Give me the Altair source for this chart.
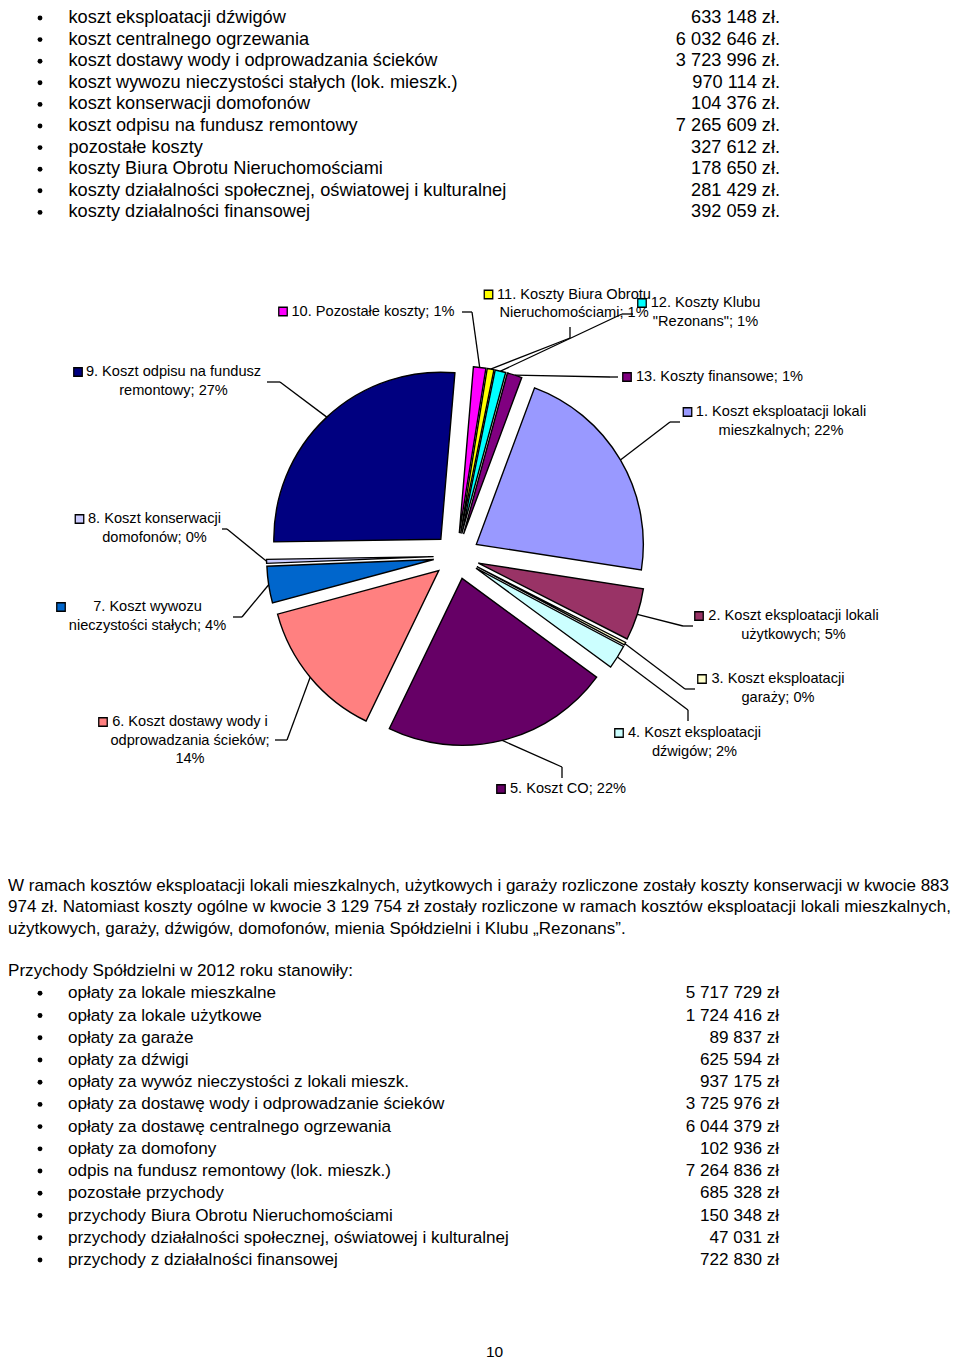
import math
import textwrap
import altair as alt
import pandas as pd

# ---------------- data ----------------
cost_items = [
    "koszt eksploatacji dźwigów",
    "koszt centralnego ogrzewania",
    "koszt dostawy wody i odprowadzania ścieków",
    "koszt wywozu nieczystości stałych (lok. mieszk.)",
    "koszt konserwacji domofonów",
    "koszt odpisu na fundusz remontowy",
    "pozostałe koszty",
    "koszty Biura Obrotu Nieruchomościami",
    "koszty działalności społecznej, oświatowej i kulturalnej",
    "koszty działalności finansowej",
]
cost_values = [633148, 6032646, 3723996, 970114, 104376, 7265609, 327612, 178650, 281429, 392059]

slice_names = [
    "Koszt eksploatacji lokali mieszkalnych",
    "Koszt eksploatacji lokali użytkowych",
    "Koszt eksploatacji garaży",
    "Koszt eksploatacji dźwigów",
    "Koszt CO",
    "Koszt dostawy wody i odprowadzania ścieków",
    "Koszt wywozu nieczystości stałych",
    "Koszt konserwacji domofonów",
    "Koszt odpisu na fundusz remontowy",
    "Pozostałe koszty",
    "Koszty Biura Obrotu Nieruchomościami",
    'Koszty Klubu "Rezonans"',
    "Koszty finansowe",
]
# slices 1-3 are not in the visible list
slice_values = [5950000, 1380000, 70000] + cost_values
slice_colors = ["#9999FF", "#993366", "#FFFFCC", "#CCFFFF", "#660066", "#FF8080",
                "#0066CC", "#CCCCFF", "#000080", "#FF00FF", "#FFFF00", "#00FFFF", "#800080"]

paragraph_lines = [
    "W ramach kosztów eksploatacji lokali mieszkalnych, użytkowych i garaży rozliczone zostały koszty konserwacji w kwocie 883",
    "974 zł. Natomiast koszty ogólne w kwocie 3 129 754 zł zostały rozliczone w ramach kosztów eksploatacji lokali mieszkalnych,",
    "użytkowych, garaży, dźwigów, domofonów, mienia Spółdzielni i Klubu „Rezonans”.",
]
income_title = "Przychody Spółdzielni w 2012 roku stanowiły:"
income_items = [
    "opłaty za lokale mieszkalne",
    "opłaty za lokale użytkowe",
    "opłaty za garaże",
    "opłaty za dźwigi",
    "opłaty za wywóz nieczystości z lokali mieszk.",
    "opłaty za dostawę wody i odprowadzanie ścieków",
    "opłaty za dostawę centralnego ogrzewania",
    "opłaty za domofony",
    "odpis na fundusz remontowy (lok. mieszk.)",
    "pozostałe przychody",
    "przychody Biura Obrotu Nieruchomościami",
    "przychody działalności społecznej, oświatowej i kulturalnej",
    "przychody z działalności finansowej",
]
income_values = [5717729, 1724416, 89837, 625594, 937175, 3725976, 6044379, 102936,
                 7264836, 685328, 150348, 47031, 722830]
page_number = "10"

# ---------------- layout / style ----------------
FONT = "Liberation Sans"
W, H = 944, 1354
M = 8  # page margin


def P(v):
    return v - M


XS = alt.Scale(domain=[M, W + M], range=[0, W], zero=False, nice=False)
YS = alt.Scale(domain=[M, H + M], range=[0, H], zero=False, nice=False)


def X(f):
    return alt.X(f, type="quantitative", scale=XS, axis=None)


def Y(f):
    return alt.Y(f, type="quantitative", scale=YS, axis=None)


def pln(v, suffix):
    return f"{v:,}".replace(",", " ") + " " + suffix


# pie geometry
CX, CY = 456.5, 556.0
EXPLODE = 23.0
RADIUS = 167.0
A0 = math.radians(20.4)
TOTAL = sum(slice_values)

# label layout (page coordinates)
label_wrap = [28, 28, 21, 21, 40, 23, 24, 20, 26, 40, 23, 16, 40]
label_x = [781, 793.5, 778, 694.5, 568, 190, 147.5, 154.5, 173.5, 373, 574, 705.5, 719.5]
label_y = [412, 616, 679, 733, 789, 722, 607, 519, 372, 311.5, 294.5, 303, 377]
key_x = [687.5, 699, 702, 619, 501, 103, 61, 79.5, 78, 283, 488.5, 642, 627]
elbow_x = [670, 683, 685, 688, 562, 287, 242, 227, 280, 472, 570, 622, 610]
elbow_y = [422, 626, 689, 710, 767, 740, 617, 529, 382, 312, 338, 314, 377]
end_x = [680, 693, 695, 688, 562, 275, 233, 222, 267, 462, 570, 633, 618]
end_y = [422, 626, 689, 721, 778, 740, 617, 529, 382, 312, 327, 314, 377]
LABEL_LH = 18.7
LABEL_FS = 14.6

# ---------------- tables ----------------
pie_df = pd.DataFrame({
    "idx": list(range(1, 14)),
    "name": slice_names,
    "value": slice_values,
    "ex": elbow_x, "ey": elbow_y, "tx": end_x, "ty": end_y,
})

lab_rows = []
for k, (nm, v) in enumerate(zip(slice_names, slice_values)):
    pct = round(100 * v / TOTAL)
    txt = f"{k + 1}. {nm}; {pct}%"
    for j, line in enumerate(textwrap.wrap(txt, label_wrap[k])):
        lab_rows.append({"name": nm, "j": j, "line": line, "lx": label_x[k],
                         "ly": label_y[k] + j * LABEL_LH, "kx": key_x[k], "ky": label_y[k]})
lab_df = pd.DataFrame(lab_rows)
key_df = lab_df[lab_df["j"] == 0]

fill = alt.Fill("name:N", scale=alt.Scale(domain=slice_names, range=slice_colors), legend=None)

# ---------------- pie ----------------
pie_base = (
    alt.Chart(pie_df)
    .transform_joinaggregate(total="sum(value)")
    .transform_window(cum="sum(value)", sort=[alt.SortField("idx")], frame=[None, 0])
    .transform_calculate(
        c0="datum.cum - datum.value",
        mid=f"{A0} + 2*PI*(datum.cum - datum.value/2)/datum.total",
    )
    .transform_calculate(
        px=f"{CX} + {EXPLODE}*sin(datum.mid)",
        py=f"{CY} - {EXPLODE}*cos(datum.mid)",
        ax=f"{CX} + {EXPLODE + RADIUS}*sin(datum.mid)",
        ay=f"{CY} - {EXPLODE + RADIUS}*cos(datum.mid)",
    )
)

pie = pie_base.mark_arc(outerRadius=RADIUS, stroke="black", strokeWidth=1.4).encode(
    x=X("px"),
    y=Y("py"),
    theta=alt.Theta("c0:Q", stack=None,
                    scale=alt.Scale(domain=[0, TOTAL], range=[A0, A0 + 2 * math.pi])),
    theta2=alt.Theta2("cum:Q"),
    fill=fill,
)

lead1 = pie_base.mark_rule(color="black", strokeWidth=1.3).encode(
    x=X("ax"), y=Y("ay"), x2=alt.X2("ex:Q"), y2=alt.Y2("ey:Q"))
lead2 = pie_base.mark_rule(color="black", strokeWidth=1.3).encode(
    x=X("ex"), y=Y("ey"), x2=alt.X2("tx:Q"), y2=alt.Y2("ty:Q"))

labels = alt.Chart(lab_df).mark_text(
    font=FONT, fontSize=LABEL_FS, align="center", baseline="middle", color="black"
).encode(x=X("lx"), y=Y("ly"), text="line:N")

keys = alt.Chart(key_df).mark_square(size=72, stroke="black", strokeWidth=1.3, opacity=1).encode(
    x=X("kx"), y=Y("ky"), fill=fill)

# ---------------- text of the page ----------------
TOP_FS = 18.2
TOP_Y0, TOP_STEP = 23.0, 21.6
top_df = pd.DataFrame({"i": list(range(len(cost_items))), "item": cost_items,
                       "amount": [pln(v, "zł.") for v in cost_values]})
top_base = alt.Chart(top_df).transform_calculate(
    yb=f"{TOP_Y0} + datum.i*{TOP_STEP}", yc=f"{TOP_Y0 - 5} + datum.i*{TOP_STEP}")
top_items = top_base.mark_text(font=FONT, fontSize=TOP_FS, align="left", baseline="alphabetic",
                               color="black").encode(x=alt.value(P(68.5)), y=Y("yb"), text="item:N")
top_amts = top_base.mark_text(font=FONT, fontSize=TOP_FS, align="right", baseline="alphabetic",
                              color="black").encode(x=alt.value(P(780)), y=Y("yb"), text="amount:N")
top_bul = top_base.mark_circle(size=24, color="black", opacity=1).encode(x=alt.value(P(40)), y=Y("yc"))

BODY_FS = 17.1
PAR_Y0, PAR_STEP = 890.7, 21.4
par_df = pd.DataFrame({"i": list(range(len(paragraph_lines))), "line": paragraph_lines})
par = alt.Chart(par_df).transform_calculate(yb=f"{PAR_Y0} + datum.i*{PAR_STEP}").mark_text(
    font=FONT, fontSize=17, align="left", baseline="alphabetic", color="black"
).encode(x=alt.value(P(8)), y=Y("yb"), text="line:N")

INC_Y0, INC_STEP = 998.3, 22.22
inc_df = pd.DataFrame({"i": list(range(len(income_items))), "item": income_items,
                       "amount": [pln(v, "zł") for v in income_values]})
inc_base = alt.Chart(inc_df).transform_calculate(
    yb=f"{INC_Y0} + datum.i*{INC_STEP}", yc=f"{INC_Y0 - 5} + datum.i*{INC_STEP}")
inc_items = inc_base.mark_text(font=FONT, fontSize=BODY_FS, align="left", baseline="alphabetic",
                               color="black").encode(x=alt.value(P(68)), y=Y("yb"), text="item:N")
inc_amts = inc_base.mark_text(font=FONT, fontSize=BODY_FS, align="right", baseline="alphabetic",
                              color="black").encode(x=alt.value(P(779)), y=Y("yb"), text="amount:N")
inc_bul = inc_base.mark_circle(size=24, color="black", opacity=1).encode(x=alt.value(P(40)), y=Y("yc"))

title_df = pd.DataFrame({"t": [income_title], "x": [8], "y": [976]})
inc_title = alt.Chart(title_df).mark_text(font=FONT, fontSize=BODY_FS, align="left", baseline="alphabetic",
                                          color="black").encode(x=X("x"), y=Y("y"), text="t:N")

pn_df = pd.DataFrame({"t": [page_number], "x": [494.5], "y": [1357.0]})
pn = alt.Chart(pn_df).mark_text(font=FONT, fontSize=15.5, align="center", baseline="alphabetic",
                                color="black").encode(x=X("x"), y=Y("y"), text="t:N")

chart = alt.layer(
    lead1, lead2, pie, keys, labels,
    top_bul, top_items, top_amts,
    par,
    inc_title, inc_bul, inc_items, inc_amts,
    pn,
).properties(width=W, height=H, autosize="none", padding=0, background="white"
).configure_view(strokeWidth=0)

chart.save("out.html", embed_options={"renderer": "svg", "actions": False})
